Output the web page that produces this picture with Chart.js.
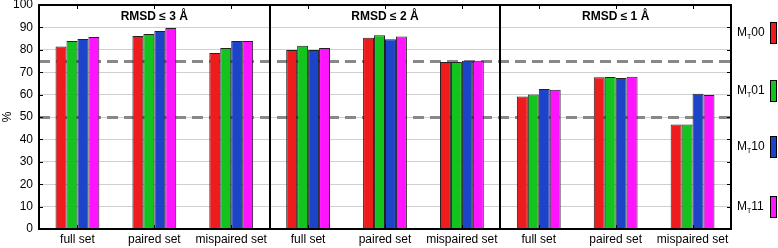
<!DOCTYPE html>
<html>
<head>
<meta charset="utf-8">
<script src="https://cdn.jsdelivr.net/npm/chart.js@4"></script>
<style>
  html, body { margin: 0; padding: 0; background: #fff; }
  #wrap { width: 778px; height: 248px; }
</style>
</head>
<body>
<div id="wrap"><canvas id="rmsdChart" width="778" height="248"></canvas></div>
<script>
// categories, three panels of three groups each
const groups = ["full set", "paired set", "mispaired set"];
const panels = ["RMSD \u2264 3 \u00C5", "RMSD \u2264 2 \u00C5", "RMSD \u2264 1 \u00C5"];
const seriesNames = ["00", "01", "10", "11"];
const yTicks = [0, 10, 20, 30, 40, 50, 60, 70, 80, 90, 100];
const refLines = [75, 50];

// values per series, panel by panel (full, paired, mispaired)
const mt00 = [81.5, 86.2, 78.6, 79.9, 85.4, 74.6, 59.2, 67.7, 46.7];
const mt01 = [83.9, 87.1, 80.8, 81.8, 86.5, 74.6, 60.0, 67.9, 46.7];
const mt10 = [84.8, 88.4, 83.9, 79.9, 84.7, 75.1, 62.5, 67.4, 60.4];
const mt11 = [85.7, 89.7, 83.9, 80.8, 85.9, 75.1, 62.2, 68.0, 59.8];

const colors = ["#ee1c1c", "#14c41e", "#1c44c8", "#ff14ff"];

var labels = [];
panels.forEach(function () { groups.forEach(function (g) { labels.push(g); }); });

const fontFam = "'Liberation Sans', Arial, sans-serif";

const panelPlugin = {
	id: "panels",
	beforeDatasetsDraw: function (chart) {
		const ctx = chart.ctx;
		const a = chart.chartArea;
		const y = chart.scales.y;
		ctx.save();
		ctx.strokeStyle = "#888";
		ctx.lineWidth = 3;
		ctx.setLineDash([11, 6]);
		refLines.forEach(function (v) {
			const py = Math.round(y.getPixelForValue(v)) + 0.5;
			ctx.beginPath();
			ctx.moveTo(a.left, py);
			ctx.lineTo(a.right, py);
			ctx.stroke();
		});
		ctx.restore();
	},
	afterDatasetsDraw: function (chart) {
		const ctx = chart.ctx;
		const a = chart.chartArea;
		const x = chart.scales.x;
		const y = chart.scales.y;
		const step = (a.right - a.left) / labels.length;
		ctx.save();
		ctx.strokeStyle = "#000";
		ctx.lineWidth = 2;
		ctx.strokeRect(a.left, a.top, a.right - a.left, a.bottom - a.top);
		for (var p = 1; p < panels.length; p++) {
			const px = Math.round(a.left + step * 3 * p);
			ctx.beginPath();
			ctx.moveTo(px, a.top);
			ctx.lineTo(px, a.bottom);
			ctx.stroke();
		}
		// small tick marks on the frame
		ctx.lineWidth = 1;
		yTicks.forEach(function (v) {
			const py = Math.round(y.getPixelForValue(v)) + 0.5;
			ctx.beginPath();
			ctx.moveTo(a.left, py); ctx.lineTo(a.left + 4, py);
			ctx.moveTo(a.right, py); ctx.lineTo(a.right - 4, py);
			ctx.stroke();
		});
		for (var i = 0; i < labels.length; i++) {
			const px = Math.round(x.getPixelForValue(i)) + 0.5;
			ctx.beginPath();
			ctx.moveTo(px, a.top); ctx.lineTo(px, a.top + 4);
			ctx.moveTo(px, a.bottom); ctx.lineTo(px, a.bottom - 4);
			ctx.stroke();
		}
		// panel titles
		ctx.fillStyle = "#000";
		ctx.font = "bold 12px " + fontFam;
		ctx.textAlign = "center";
		ctx.textBaseline = "middle";
		panels.forEach(function (t, p) {
			ctx.fillText(t, a.left + step * (3 * p + 1.5), a.top + 12);
		});
		// legend on the right, label M with subscript T
		const legendY = [33, 91, 147, 207];
		seriesNames.forEach(function (n, k) {
			const cy = legendY[k];
			ctx.textAlign = "left";
			ctx.font = "12px " + fontFam;
			ctx.fillStyle = "#000";
			ctx.fillText("M", 737, cy);
			const mw = ctx.measureText("M").width;
			ctx.font = "7px " + fontFam;
			ctx.fillText("T", 737 + mw, cy + 4);
			const tw = ctx.measureText("T").width;
			ctx.font = "12px " + fontFam;
			ctx.fillText(n, 737 + mw + tw, cy);
			ctx.fillStyle = colors[k];
			ctx.fillRect(770, cy - 11, 7, 22);
			ctx.strokeStyle = "#000";
			ctx.lineWidth = 1;
			ctx.strokeRect(770.5, cy - 10.5, 6, 21);
		});
		ctx.restore();
	}
};

const canvaRmsd = document.getElementById("rmsdChart").getContext("2d");

const rmsdChart = new Chart(canvaRmsd, {
	type: "bar",
	data: {
		labels: labels,
		datasets: [mt00, mt01, mt10, mt11].map(function (d, k) {
			return {
				label: "MT" + seriesNames[k],
				data: d,
				backgroundColor: colors[k],
				borderColor: "#222",
				borderWidth: 1,
				borderSkipped: "bottom",
				categoryPercentage: 0.57,
				barPercentage: 1.0,
			};
		}),
	},
	options: {
		responsive: false,
		animation: false,
		devicePixelRatio: 1,
		layout: { padding: { top: 5, right: 47, left: 0, bottom: 0 } },
		plugins: {
			legend: { display: false },
			tooltip: { enabled: false },
		},
		scales: {
			x: {
				grid: { display: false, drawTicks: false },
				border: { display: false },
				ticks: {
					color: "#000",
					font: { family: fontFam, size: 12 },
					maxRotation: 0,
					autoSkip: false,
					padding: 3,
				},
				afterFit: function (s) {
					s.height = 19;
					s.paddingLeft = 0;
					s.paddingRight = 0;
				},
			},
			y: {
				min: 0,
				max: 100,
				afterBuildTicks: function (s) {
					s.ticks = yTicks.map(function (v) { return { value: v }; });
				},
				grid: { color: "#d0d0d0", lineWidth: 1, drawTicks: false },
				border: { display: false },
				ticks: {
					color: "#000",
					font: { family: fontFam, size: 12 },
					padding: 6,
				},
				title: {
					display: true,
					text: "%",
					color: "#000",
					font: { family: fontFam, size: 12 },
					padding: 0,
				},
				afterFit: function (s) {
					s.width = 39;
					s.paddingTop = 0;
					s.paddingBottom = 0;
				},
			},
		},
	},
	plugins: [panelPlugin],
});
</script>
</body>
</html>
